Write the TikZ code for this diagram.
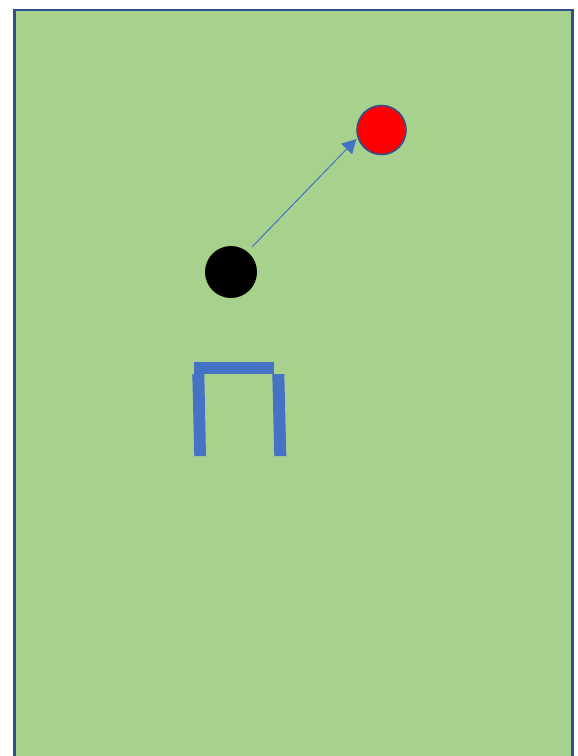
\documentclass[tikz,border=0pt]{standalone}
\usetikzlibrary{arrows.meta}
\definecolor{bgfill}{HTML}{A9D18E}
\definecolor{bgedge}{HTML}{2F528F}
\definecolor{accent}{HTML}{4472C4}
\definecolor{redfill}{HTML}{FF0000}
\tikzset{
  dot/.style={circle, inner sep=0pt, outer sep=0pt},
  legbar/.style={fill=accent, draw=none},
  link/.style={draw=accent, line width=1pt, -{Triangle[length=14pt,width=15pt]}}
}
\begin{document}
\begin{tikzpicture}[x=1pt,y=-1pt]
\useasboundingbox (0,0) rectangle (578,756);
\clip (0,0) rectangle (578,756);
\fill[white] (0,0) rectangle (578,756);
\draw[fill=bgfill, draw=bgedge, line width=2.6pt] (14.5,10) rectangle (572.5,775);
\node[dot, fill=black, minimum size=52pt] (blk) at (231,272) {};
\node[dot, fill=redfill, draw=bgedge, line width=1.6pt, minimum size=49pt] (red) at (381.5,130) {};
\draw[link, shorten <=7pt, shorten >=2.5pt] (blk.51) -- (red.197);
\fill[legbar] (194.3,362.3) rectangle (274.3,374);
\fill[legbar] (192.3,374) -- (204.3,374) -- (206,456) -- (194.3,456) -- cycle;
\fill[legbar] (272.3,374) -- (284.3,374) -- (286.3,456) -- (274.3,456) -- cycle;
\end{tikzpicture}
\end{document}
